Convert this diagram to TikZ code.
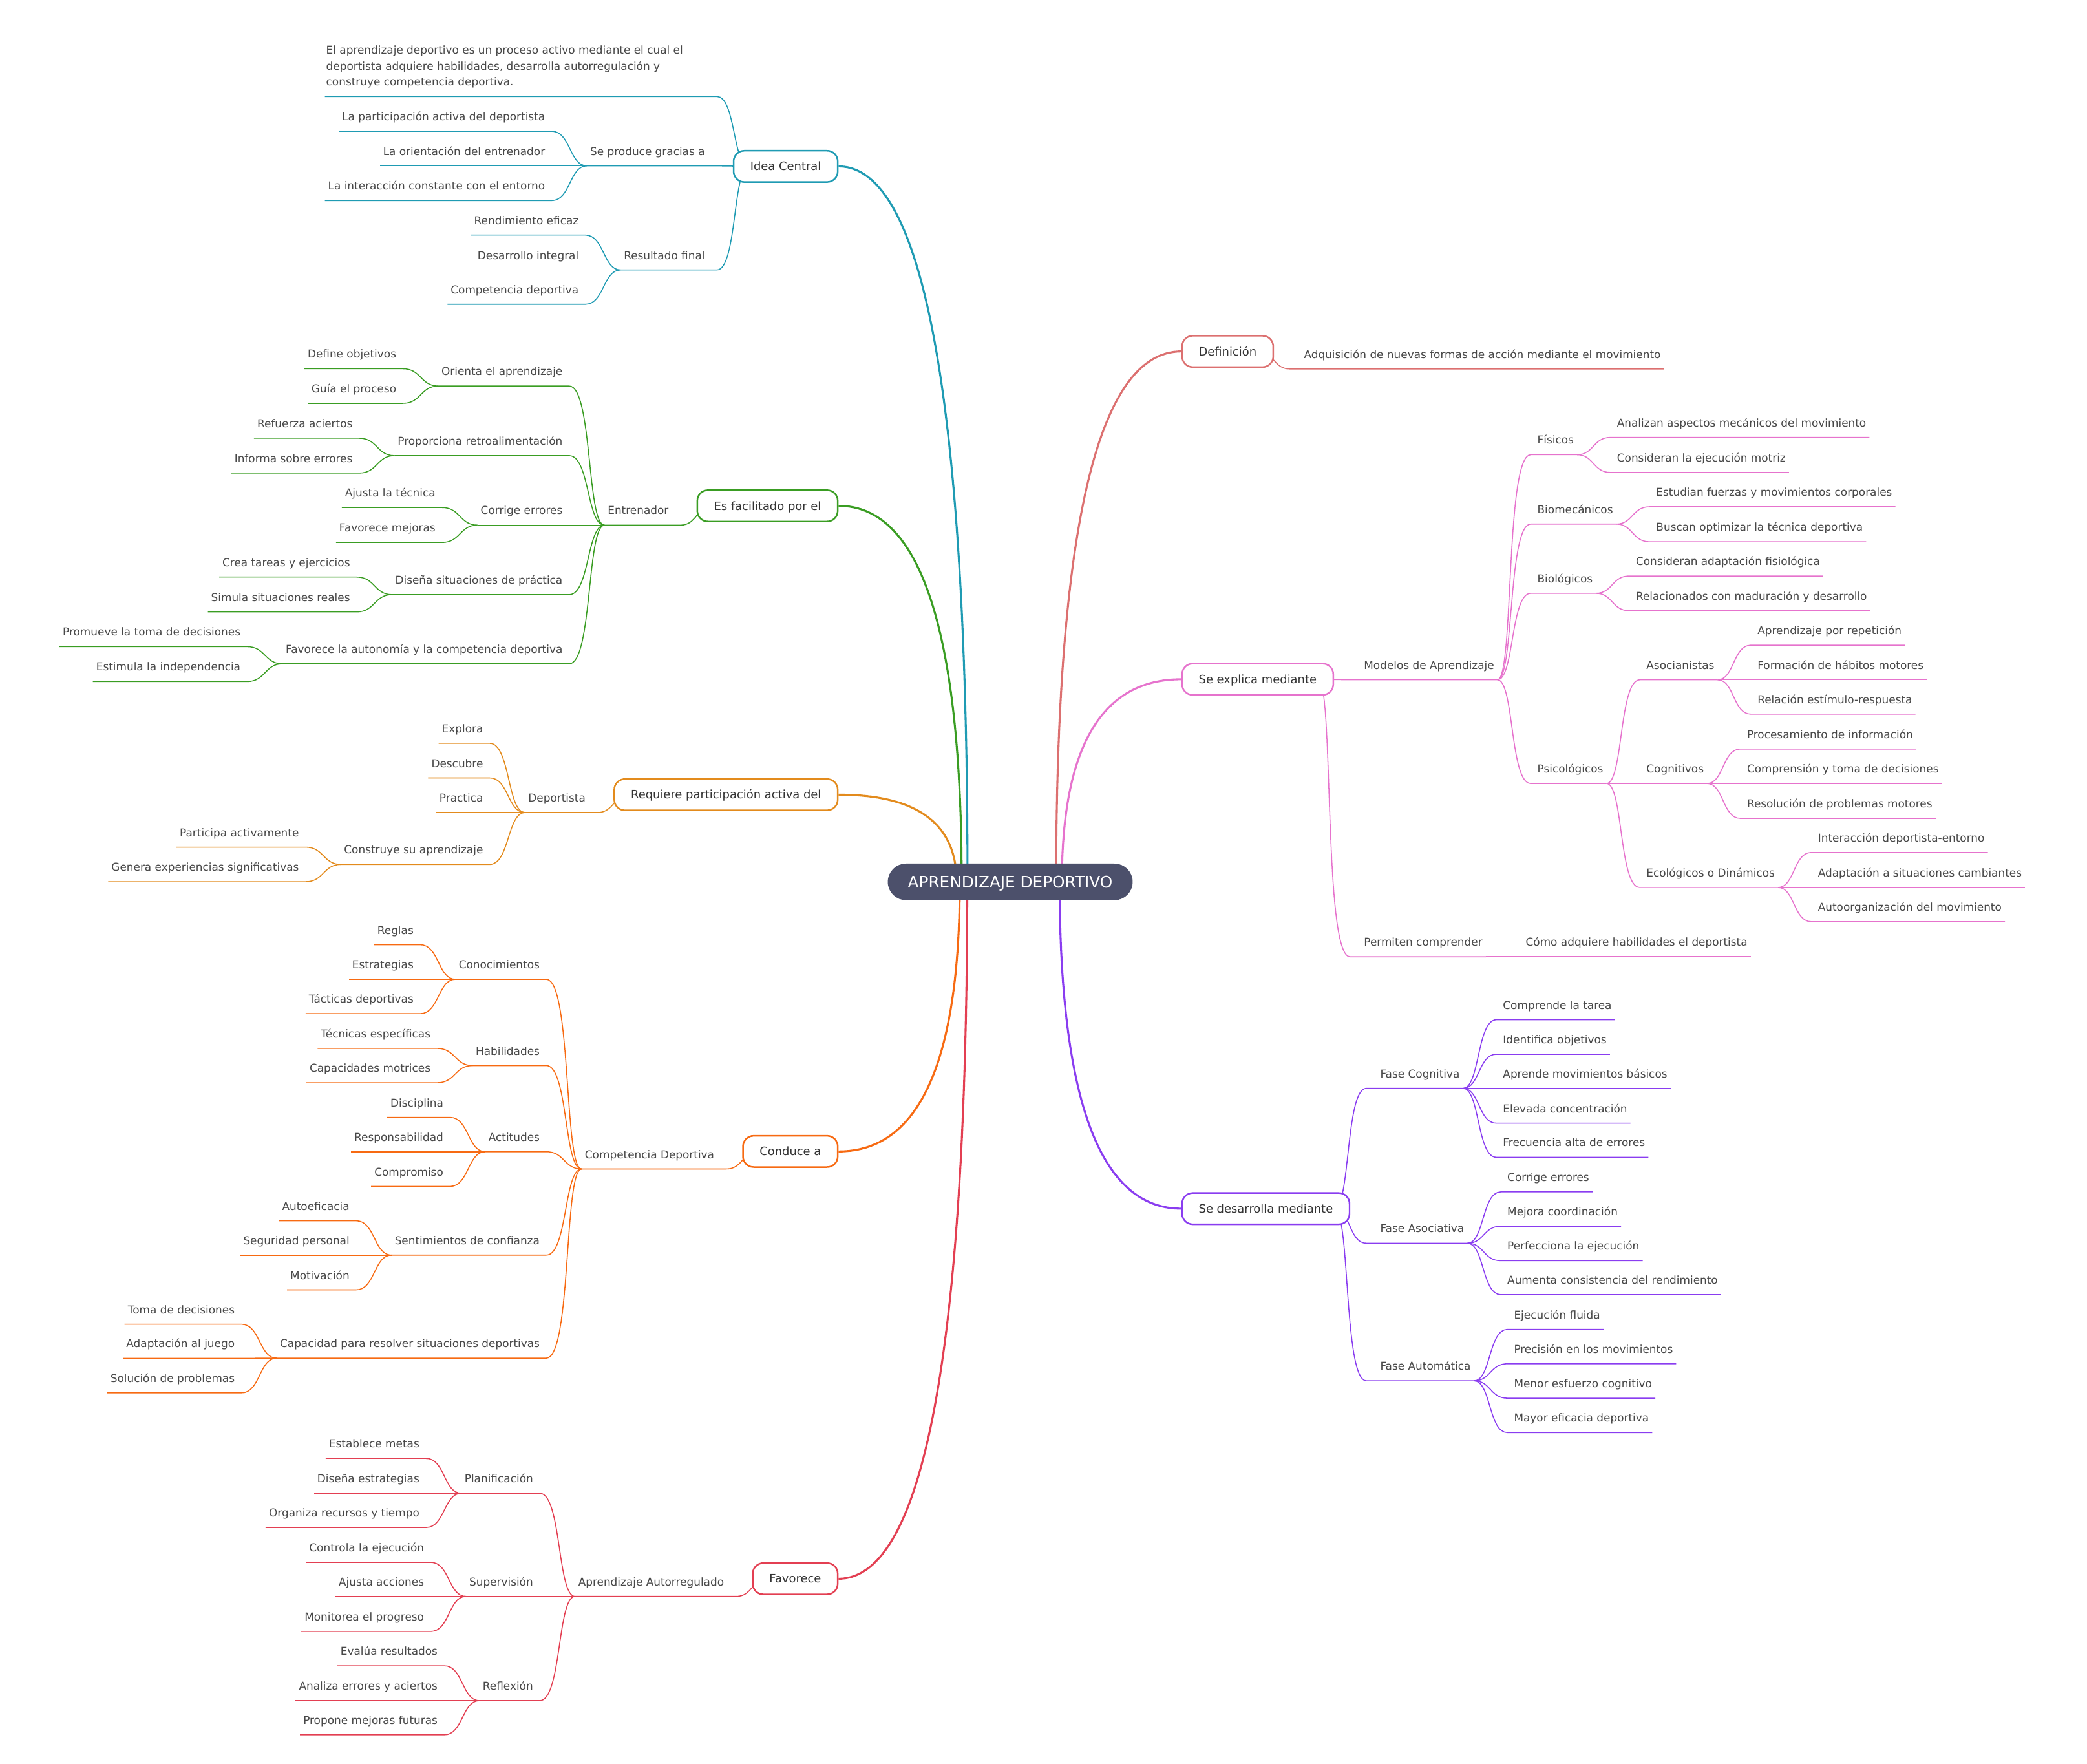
\documentclass[tikz,border=0pt]{standalone}
\usepackage{fontspec}
\setmainfont{DejaVu Sans}
\usetikzlibrary{calc}
\definecolor{cTeal}{HTML}{1F9BB3}
\definecolor{cGreen}{HTML}{3A9D23}
\definecolor{cAmber}{HTML}{E38B1D}
\definecolor{cOrange}{HTML}{F76A12}
\definecolor{cRed}{HTML}{E33F52}
\definecolor{cSalmon}{HTML}{DC7070}
\definecolor{cPink}{HTML}{E673CD}
\definecolor{cPurple}{HTML}{8A3DF0}
\definecolor{txt}{HTML}{484848}
\definecolor{txtd}{HTML}{333333}
\definecolor{cn}{HTML}{4C506B}
\pgfdeclarelayer{bg}
\pgfsetlayers{bg,main}
\def\bc{black}
\newcommand\setbc[1]{\def\bc{#1}}
% non-first child, left side
\newcommand\itL[4]{%
  \node[itm,anchor=south east] (#1) at ($(#2.south west |- 0,#3)+(-29,0)$) {#4};
  \begin{pgfonlayer}{bg}
  \draw[sub,color=\bc] let \p1=(#2.south west), \p2=([xshift=2.5pt]#1.south east) in
    (\p1) .. controls ({(\x1+\x2)/2},\y1) and ({(\x1+\x2)/2+abs(\y2-\y1)/25},\y2) .. (\p2) -- (#1.south west);
  \end{pgfonlayer}}
% non-first child, right side
\newcommand\itR[4]{%
  \node[itm,anchor=south west] (#1) at ($(#2.south east |- 0,#3)+(27.5,0)$) {#4};
  \begin{pgfonlayer}{bg}
  \draw[sub,color=\bc] let \p1=(#2.south east), \p2=([xshift=-2.5pt]#1.south west) in
    (\p1) .. controls ({(\x1+\x2)/2},\y1) and ({(\x1+\x2)/2-abs(\y2-\y1)/25},\y2) .. (\p2) -- (#1.south east);
  \end{pgfonlayer}}
% first-level child of a box, left side
\newcommand\ftL[4]{%
  \node[itm,anchor=south east] (#1) at ($(#2.west |- 0,#3)+(-18.5,0)$) {#4};
  \begin{pgfonlayer}{bg}
  \draw[sub,color=\bc] let \p1=([xshift=12pt]#2.west), \p2=([xshift=6.5pt]#1.south east) in
    (\p1) .. controls ({(\x1+\x2)/2},\y1) and ({(\x1+\x2)/2+abs(\y2-\y1)/25},\y2) .. (\p2) -- (#1.south west);
  \end{pgfonlayer}}
% first-level child of a box, right side
\newcommand\ftR[4]{%
  \node[itm,anchor=south west] (#1) at ($(#2.east |- 0,#3)+(20,0)$) {#4};
  \begin{pgfonlayer}{bg}
  \draw[sub,color=\bc] let \p1=([xshift=-12pt]#2.east), \p2=([xshift=-8pt]#1.south west) in
    (\p1) .. controls ({(\x1+\x2)/2},\y1) and ({(\x1+\x2)/2-abs(\y2-\y1)/25},\y2) .. (\p2) -- (#1.south east);
  \end{pgfonlayer}}
% main branches (quadratic from centre)
\newcommand\mainL[3]{\draw[mainln,color=#3] (#1) .. controls ($(#1)!0.6667!(#1 |- #2.east)$) and ($(#2.east)!0.6667!(#1 |- #2.east)$) .. (#2.east);}
\newcommand\mainR[3]{\draw[mainln,color=#3] (#1) .. controls ($(#1)!0.6667!(#1 |- #2.west)$) and ($(#2.west)!0.6667!(#1 |- #2.west)$) .. (#2.west);}

\begin{document}
\begin{tikzpicture}[x=1pt,y=-1pt,
  itm/.style={font=\fontsize{8.2}{10}\selectfont, text=txt, inner xsep=2.5pt, inner ysep=0pt, outer sep=0pt, text height=6.5pt, text depth=8pt},
  bx/.style={draw=#1, line width=1.2pt, fill=white, rounded corners=8pt, font=\fontsize{8.7}{10}\selectfont, text=txtd, inner xsep=12.5pt, inner ysep=0pt, text height=6.3pt, text depth=0pt, minimum height=23.5pt},
  cnode/.style={fill=cn, text=white, font=\fontsize{12}{14}\selectfont, rounded corners=13.75pt, minimum width=184pt, minimum height=27.5pt, inner sep=0pt, text height=8.75pt, text depth=0pt},
  sub/.style={line width=0.75pt},
  mainln/.style={line width=1.5pt}]
\useasboundingbox (0,0) rectangle (1568,1325);
\begin{pgfonlayer}{bg}
\fill[white] (0,0) rectangle (1568,1325);
\end{pgfonlayer}

% centre
\node[cnode] (cen) at (759,662.5) {APRENDIZAJE DEPORTIVO};

% main boxes
\node[bx=cTeal, anchor=east] (bIC) at (630,125) {Idea Central};
\node[bx=cGreen, anchor=east] (bEF) at (630,380) {Es facilitado por el};
\node[bx=cAmber, anchor=east] (bRP) at (630,597) {Requiere participación activa del};
\node[bx=cOrange, anchor=east] (bCA) at (630,865) {Conduce a};
\node[bx=cRed, anchor=east] (bFa) at (630,1186) {Favorece};
\node[bx=cSalmon, anchor=west] (bDe) at (887.5,264) {Definición};
\node[bx=cPink, anchor=west] (bSE) at (887.5,510.3) {Se explica mediante};
\node[bx=cPurple, anchor=west] (bSD) at (887.5,908) {Se desarrolla mediante};

% start points on the centre node
\coordinate (s1) at ($(cen.center)+(-32.1,0)$);
\coordinate (s2) at ($(cen.center)+(-36.5,0)$);
\coordinate (s3) at ($(cen.center)+(-40.3,0)$);
\coordinate (s4) at ($(cen.center)+(-37.9,0)$);
\coordinate (s5) at ($(cen.center)+(-32.3,0)$);
\coordinate (s6) at ($(cen.center)+(34.5,0)$);
\coordinate (s7) at ($(cen.center)+(38.8,0)$);
\coordinate (s8) at ($(cen.center)+(37.1,0)$);
\begin{pgfonlayer}{bg}
\mainL{s1}{bIC}{cTeal}
\mainL{s2}{bEF}{cGreen}
\mainL{s3}{bRP}{cAmber}
\mainL{s4}{bCA}{cOrange}
\mainL{s5}{bFa}{cRed}
\mainR{s6}{bDe}{cSalmon}
\mainR{s7}{bSE}{cPink}
\mainR{s8}{bSD}{cPurple}
\end{pgfonlayer}

% ---------- Idea Central
\setbc{cTeal}
\node[itm, inner xsep=1pt, anchor=south east] (ic0) at ($(bIC.west |- 0,72.5)+(-18.5,0)$) {\parbox[b]{286pt}{\raggedright\fontsize{8.2}{12}\selectfont El aprendizaje deportivo es un proceso activo mediante el cual el\\ deportista adquiere habilidades, desarrolla autorregulación y\\ construye competencia deportiva.}};
\begin{pgfonlayer}{bg}
\draw[sub,color=\bc] let \p1=([xshift=12pt]bIC.west), \p2=([xshift=6.5pt]ic0.south east) in
  (\p1) .. controls ({(\x1+\x2)/2},\y1) and ({(\x1+\x2)/2+abs(\y2-\y1)/25},\y2) .. (\p2) -- (ic0.south west);
\end{pgfonlayer}
\ftL{ic1}{bIC}{124.6}{Se produce gracias a}
\ftL{ic2}{bIC}{202.8}{Resultado final}
\itL{ic11}{ic1}{98.6}{La participación activa del deportista}
\itL{ic12}{ic1}{124.6}{La orientación del entrenador}
\itL{ic13}{ic1}{150.7}{La interacción constante con el entorno}
\itL{ic21}{ic2}{176.6}{Rendimiento eficaz}
\itL{ic22}{ic2}{202.8}{Desarrollo integral}
\itL{ic23}{ic2}{228.6}{Competencia deportiva}

% ---------- Es facilitado por el
\setbc{cGreen}
\ftL{ef1}{bEF}{394.5}{Entrenador}
\itL{ef11}{ef1}{290}{Orienta el aprendizaje}
\itL{ef12}{ef1}{342.3}{Proporciona retroalimentación}
\itL{ef13}{ef1}{394.5}{Corrige errores}
\itL{ef14}{ef1}{446.7}{Diseña situaciones de práctica}
\itL{ef15}{ef1}{498.7}{Favorece la autonomía y la competencia deportiva}
\itL{ef111}{ef11}{277}{Define objetivos}
\itL{ef112}{ef11}{303}{Guía el proceso}
\itL{ef121}{ef12}{329.2}{Refuerza aciertos}
\itL{ef122}{ef12}{355.4}{Informa sobre errores}
\itL{ef131}{ef13}{381.3}{Ajusta la técnica}
\itL{ef132}{ef13}{407.5}{Favorece mejoras}
\itL{ef141}{ef14}{433.5}{Crea tareas y ejercicios}
\itL{ef142}{ef14}{459.7}{Simula situaciones reales}
\itL{ef151}{ef15}{485.8}{Promueve la toma de decisiones}
\itL{ef152}{ef15}{512}{Estimula la independencia}

% ---------- Requiere participación activa del
\setbc{cAmber}
\ftL{rp1}{bRP}{610.4}{Deportista}
\itL{rp11}{rp1}{558.4}{Explora}
\itL{rp12}{rp1}{584.4}{Descubre}
\itL{rp13}{rp1}{610.4}{Practica}
\itL{rp2}{rp1}{649.4}{Construye su aprendizaje}
\itL{rp21}{rp2}{636.4}{Participa activamente}
\itL{rp22}{rp2}{662.4}{Genera experiencias significativas}

% ---------- Conduce a
\setbc{cOrange}
\ftL{ca1}{bCA}{878.2}{Competencia Deportiva}
\itL{ca11}{ca1}{735.7}{Conocimientos}
\itL{ca12}{ca1}{800.5}{Habilidades}
\itL{ca13}{ca1}{865.2}{Actitudes}
\itL{ca14}{ca1}{942.9}{Sentimientos de confianza}
\itL{ca15}{ca1}{1020.3}{Capacidad para resolver situaciones deportivas}
\itL{ca111}{ca11}{709.7}{Reglas}
\itL{ca112}{ca11}{735.7}{Estrategias}
\itL{ca113}{ca11}{761.5}{Tácticas deportivas}
\itL{ca121}{ca12}{787.6}{Técnicas específicas}
\itL{ca122}{ca12}{813.4}{Capacidades motrices}
\itL{ca131}{ca13}{839.4}{Disciplina}
\itL{ca132}{ca13}{865.2}{Responsabilidad}
\itL{ca133}{ca13}{891.3}{Compromiso}
\itL{ca141}{ca14}{917.1}{Autoeficacia}
\itL{ca142}{ca14}{942.9}{Seguridad personal}
\itL{ca143}{ca14}{969}{Motivación}
\itL{ca151}{ca15}{994.8}{Toma de decisiones}
\itL{ca152}{ca15}{1020.4}{Adaptación al juego}
\itL{ca153}{ca15}{1046.4}{Solución de problemas}

% ---------- Favorece
\setbc{cRed}
\ftL{fa1}{bFa}{1199.3}{Aprendizaje Autorregulado}
\itL{fa11}{fa1}{1121.8}{Planificación}
\itL{fa12}{fa1}{1199.3}{Supervisión}
\itL{fa13}{fa1}{1277.6}{Reflexión}
\itL{fa111}{fa11}{1095.6}{Establece metas}
\itL{fa112}{fa11}{1121.8}{Diseña estrategias}
\itL{fa113}{fa11}{1147.5}{Organiza recursos y tiempo}
\itL{fa121}{fa12}{1173.7}{Controla la ejecución}
\itL{fa122}{fa12}{1199.3}{Ajusta acciones}
\itL{fa123}{fa12}{1225.6}{Monitorea el progreso}
\itL{fa131}{fa13}{1251.4}{Evalúa resultados}
\itL{fa132}{fa13}{1277.6}{Analiza errores y aciertos}
\itL{fa133}{fa13}{1303.3}{Propone mejoras futuras}

% ---------- Definición
\setbc{cSalmon}
\ftR{de1}{bDe}{277.2}{Adquisición de nuevas formas de acción mediante el movimiento}

% ---------- Se explica mediante
\setbc{cPink}
\ftR{se1}{bSE}{510.7}{Modelos de Aprendizaje}
\ftR{se2}{bSE}{718.8}{Permiten comprender}
\itR{se21}{se2}{718.8}{Cómo adquiere habilidades el deportista}
\itR{se11}{se1}{341.6}{Físicos}
\itR{se12}{se1}{393.7}{Biomecánicos}
\itR{se13}{se1}{445.7}{Biológicos}
\itR{se14}{se1}{588.6}{Psicológicos}
\itR{se111}{se11}{328.6}{Analizan aspectos mecánicos del movimiento}
\itR{se112}{se11}{354.9}{Consideran la ejecución motriz}
\itR{se121}{se12}{380.7}{Estudian fuerzas y movimientos corporales}
\itR{se122}{se12}{407}{Buscan optimizar la técnica deportiva}
\itR{se131}{se13}{432.7}{Consideran adaptación fisiológica}
\itR{se132}{se13}{458.8}{Relacionados con maduración y desarrollo}
\itR{se141}{se14}{510.7}{Asocianistas}
\itR{se142}{se14}{588.6}{Cognitivos}
\itR{se143}{se14}{666.7}{Ecológicos o Dinámicos}
\itR{se1411}{se141}{484.7}{Aprendizaje por repetición}
\itR{se1412}{se141}{510.7}{Formación de hábitos motores}
\itR{se1413}{se141}{536.5}{Relación estímulo-respuesta}
\itR{se1421}{se142}{562.7}{Procesamiento de información}
\itR{se1422}{se142}{588.6}{Comprensión y toma de decisiones}
\itR{se1423}{se142}{614.8}{Resolución de problemas motores}
\itR{se1431}{se143}{640.4}{Interacción deportista-entorno}
\itR{se1432}{se143}{666.7}{Adaptación a situaciones cambiantes}
\itR{se1433}{se143}{692.4}{Autoorganización del movimiento}

% ---------- Se desarrolla mediante
\setbc{cPurple}
\ftR{sd1}{bSD}{817.6}{Fase Cognitiva}
\ftR{sd2}{bSD}{934}{Fase Asociativa}
\ftR{sd3}{bSD}{1037.3}{Fase Automática}
\itR{sd11}{sd1}{766.1}{Comprende la tarea}
\itR{sd12}{sd1}{792}{Identifica objetivos}
\itR{sd13}{sd1}{817.6}{Aprende movimientos básicos}
\itR{sd14}{sd1}{843.8}{Elevada concentración}
\itR{sd15}{sd1}{869.4}{Frecuencia alta de errores}
\itR{sd21}{sd2}{895.4}{Corrige errores}
\itR{sd22}{sd2}{921.2}{Mejora coordinación}
\itR{sd23}{sd2}{947.1}{Perfecciona la ejecución}
\itR{sd24}{sd2}{972.6}{Aumenta consistencia del rendimiento}
\itR{sd31}{sd3}{998.7}{Ejecución fluida}
\itR{sd32}{sd3}{1024.5}{Precisión en los movimientos}
\itR{sd33}{sd3}{1050.4}{Menor esfuerzo cognitivo}
\itR{sd34}{sd3}{1076.2}{Mayor eficacia deportiva}
\end{tikzpicture}
\end{document}
